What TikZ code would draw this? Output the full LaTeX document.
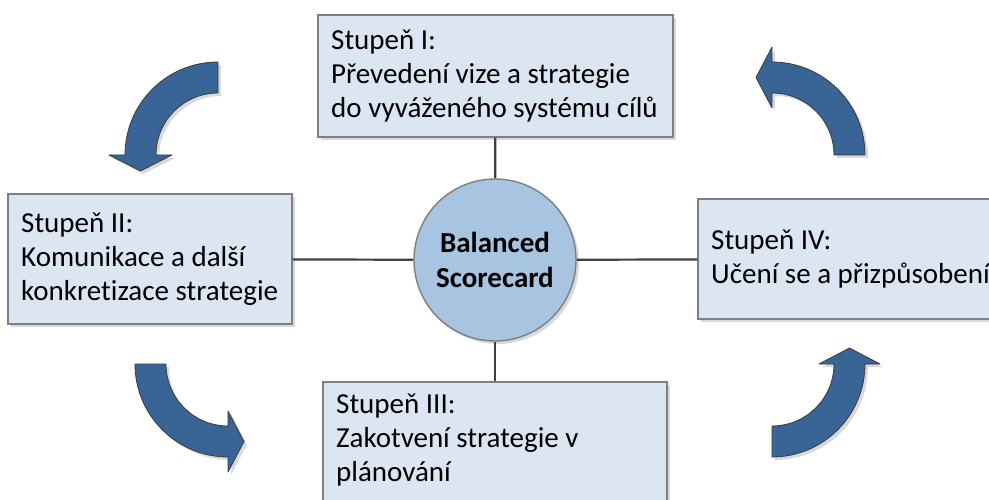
\documentclass[tikz,border=0pt]{standalone}
\usepackage{fontspec}
\setmainfont{Carlito}[Ligatures=NoCommon]
\usetikzlibrary{shadows}
\definecolor{boxfill}{HTML}{DCE6F2}
\definecolor{boxline}{HTML}{7F7F7F}
\definecolor{hubfill}{HTML}{A7C4E0}
\definecolor{arrowfill}{HTML}{386595}
\definecolor{arrowline}{HTML}{3A3A3A}
\definecolor{linkline}{HTML}{404040}
\tikzset{
  softshadow/.style={drop shadow={shadow xshift=3pt, shadow yshift=-3pt, fill=black, opacity=0.15}},
  stagebox/.style={rectangle, draw=boxline, line width=1.4pt, fill=boxfill, softshadow, inner sep=0pt},
  stagetext/.style={anchor=west, align=left, inner sep=0pt, font=\fontsize{29}{34}\selectfont},
  hub/.style={circle, draw=boxline, line width=1.4pt, fill=hubfill, softshadow, minimum size=162pt,
    inner sep=0pt, align=center, font=\fontsize{29}{35}\selectfont\bfseries},
  link/.style={draw=linkline, line width=2.2pt},
  turnarrow/.style={fill=arrowfill, draw=arrowline, line width=0.8pt, line join=round, softshadow},
}
\begin{document}
\begin{tikzpicture}[x=1pt,y=1pt]
\useasboundingbox (0,0) rectangle (989,499);
\clip (0,0) rectangle (989,499);

% central hub and the four stages
\node[hub] (sc) at (495,239) {Balanced\\Scorecard};
\node[stagebox, minimum width=355pt, minimum height=122pt] (bI) at (495.5,423) {};
\node[stagebox, minimum width=284pt, minimum height=130pt] (bII) at (150,240) {};
\node[stagebox, minimum width=344pt, minimum height=122pt] (bIII) at (495,56) {};
\node[stagebox, minimum width=302pt, minimum height=120pt] (bIV) at (849,240) {};

\node[stagetext] (tI) at (331,423) {Stupeň I:\\Převedení vize a strategie\\do vyváženého systému cílů};
\node[stagetext] (tII) at (21,240) {Stupeň II:\\Komunikace a další\\konkretizace strategie};
\node[stagetext] (tIII) at (336,59) {Stupeň III:\\Zakotvení strategie v\\plánování};
\node[stagetext] (tIV) at (711,240) {Stupeň IV:\\Učení se a přizpůsobení};

% spokes
\path[link] (bI) -- (sc);
\path[link] (bII) -- (sc);
\path[link] (sc) -- (bIII);
\path[link] (sc) -- (bIV);

% curved arrows of the cycle
\path[turnarrow] (865,344) arc[start angle=0, end angle=90, radius=93]
  -- (772,452) -- (756,421.5) -- (772,391) -- (772,406)
  arc[start angle=90, end angle=0, radius=62] -- cycle;
\path[turnarrow] (218,437) arc[start angle=90, end angle=180, radius=93]
  -- (109,344) -- (140.5,328) -- (172,344) -- (156,344)
  arc[start angle=180, end angle=90, radius=62] -- cycle;
\path[turnarrow] (135,135) arc[start angle=180, end angle=270, radius=93]
  -- (228,27) -- (244,57.5) -- (228,88) -- (228,73)
  arc[start angle=270, end angle=180, radius=62] -- cycle;
\path[turnarrow] (772,42) arc[start angle=270, end angle=360, radius=93]
  -- (880,135) -- (849.5,151) -- (819,135) -- (834,135)
  arc[start angle=360, end angle=270, radius=62] -- cycle;
\end{tikzpicture}
\end{document}
